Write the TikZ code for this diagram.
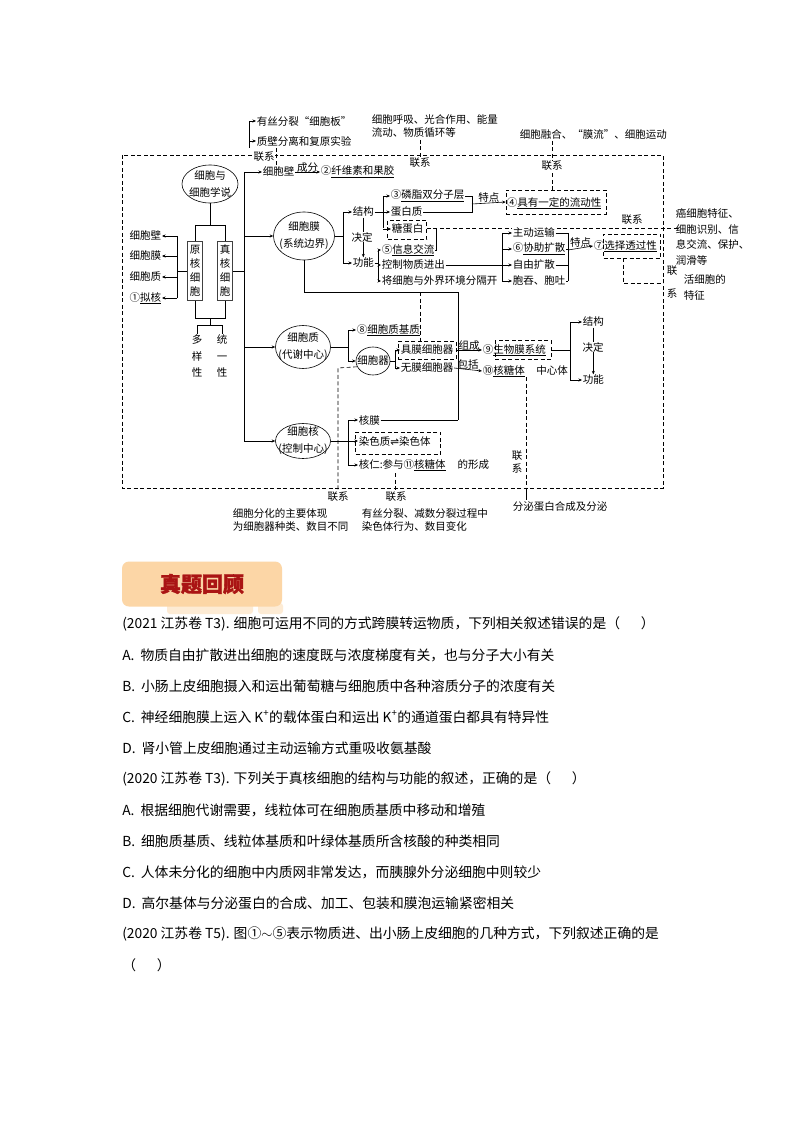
\documentclass[tikz,border=0pt]{standalone}
\usepackage{fontspec}
\setmainfont{Noto Sans CJK SC}
\newfontfamily\symfont{DejaVu Sans}
\newfontfamily\headfont{Noto Sans CJK SC}[FakeBold=1.5]
\usetikzlibrary{shapes.geometric, arrows.meta, positioning, calc}
\definecolor{HeadPeach}{RGB}{252,214,166}
\definecolor{HeadPeachLight}{RGB}{253,235,212}
\definecolor{HeadRed}{RGB}{170,20,20}
\newcommand{\dgm}{\fontsize{10.5}{13}\selectfont}
\newcommand{\ovl}{\fontsize{10.5}{17}\selectfont}
\newcommand{\qsize}{\fontsize{13.8}{16}\selectfont}

\begin{document}
\begin{tikzpicture}[x=1pt, y=-1pt,
  font=\dgm,
  line width=0.6pt,
  txt/.style={inner sep=0.5pt, anchor=west},
  lbl/.style={inner sep=0.5pt, fill=white},
  oval/.style={ellipse, draw, inner sep=0pt},
  vbox/.style={draw=black!75, line width=1.1pt, minimum width=15pt,
               minimum height=59pt, inner sep=0pt, align=center,
               font=\fontsize{10.5}{14}\selectfont},
  link/.style={dash pattern=on 4pt off 2.5pt},
  arrow/.style={-{Stealth[length=3.5pt,width=3pt]}},
  qline/.style={anchor=west, inner sep=0pt, font=\qsize},
]
\fill[white] (0,0) rectangle (794,1123);
\useasboundingbox (0,0) rectangle (794,1123);

% dashed frame and long links drawn first
\draw[link] (122,155) rectangle (663,488);
\draw[link] (420,140) -- (420,157);
\draw[link] (420,292) -- (420,341);
\draw[link] (552,141) -- (552,190);
\draw[link] (395,473) -- (395,490);
\draw[link] (526,377) -- (526,488);
\draw (526,488) -- (526,500);

% junction points
\coordinate (lb) at (177,271);
\coordinate (busT) at (244,172);
\coordinate (busB) at (244,441);
\coordinate (f1) at (378,263);
\coordinate (f2) at (502,265);
\coordinate (f3) at (568,250);
\coordinate (f4) at (348,441);
\coordinate (f5) at (383,212);

% notes outside the frame
\node[txt] (mitosis) at (256,121) {有丝分裂“细胞板”};
\node[txt] (plasmo) at (256,141) {质壁分离和复原实验};
\node[txt, align=left, lbl] (energy) at (371,126) {细胞呼吸、光合作用、能量\\流动、物质循环等};
\node[txt, lbl] (fusion) at (519,134) {细胞融合、“膜流”、细胞运动};
\node[txt, align=left, font=\fontsize{10.5}{15.5}\selectfont] (cancer) at (675,237) {癌细胞特征、\\细胞识别、信\\息交流、保护、\\润滑等};
\node[txt, align=left, font=\fontsize{10.5}{16}\selectfont] (living) at (683,287) {活细胞的\\特征};
\node[align=center, inner sep=0pt, font=\fontsize{10.5}{23}\selectfont] (lxv) at (672,282) {联\\系};

% left part
\node[oval, minimum width=56pt, minimum height=38pt] (cell) at (210,184) {};
\node[align=center, font=\ovl] at (cell) {细胞与\\细胞学说};
\node[vbox] (yuan) at (195,271) {原\\核\\细\\胞};
\node[vbox] (zhen) at (225,271) {真\\核\\细\\胞};
\node[align=center, inner sep=0pt, font=\fontsize{10.5}{16.5}\selectfont] (duo) at (197,356) {多\\样\\性};
\node[align=center, inner sep=0pt, font=\fontsize{10.5}{16.5}\selectfont] (tong) at (222,356) {统\\一\\性};
\node[inner sep=0.5pt, anchor=east] (pwall) at (162,236) {细胞壁};
\node[inner sep=0.5pt, anchor=east] (pmem) at (162,256) {细胞膜};
\node[inner sep=0.5pt, anchor=east] (pcyto) at (162,277) {细胞质};
\node[inner sep=0.5pt, anchor=east] (pnuc) at (162,298) {①\underline{拟核}};

\draw (cell.south) -- (210,225);
\draw (195,225) -- (225,225);
\draw (195,225) -- (yuan.north);
\draw (225,225) -- (zhen.north);
\draw (yuan.south) -- (195,318) -- (225,318) -- (zhen.south);
\draw (210,318) -- (210,325);
\draw (197,325) -- (222,325);
\draw (197,325) -- (duo.north);
\draw (222,325) -- (tong.north);
\draw (yuan.west) -- (lb);
\draw (177,236) -- (177,298);
\foreach \n in {pwall,pmem,pcyto,pnuc}
  \draw[arrow] (\n.east -| lb) -- (\n.east);

% main bus
\draw (zhen.east) -- (zhen.east -| busT);
\draw (busT) -- (busB);

% cell wall
\node[txt] (wall) at (262,172) {细胞壁};
\node[txt, lbl] (pectin) at (320,172) {②\underline{纤维素和果胶}};
\draw[arrow] (busT) -- (wall.west);
\draw[arrow] (wall.east) -- (pectin.west) node[midway, above=-1pt, inner sep=0.5pt] {成分};
\draw (249,121) -- (249,148);
\draw[arrow] (249,121) -- (mitosis.west);
\draw[arrow] (249,141) -- (plasmo.west);
\draw[link] (276,165) -- (276,148);
\node[lbl] at (264,157) {联系};

% cell membrane
\node[oval, minimum width=61pt, minimum height=48pt] (mem) at (304,236) {};
\node[align=center, font=\ovl] at (mem) {细胞膜\\(系统边界)};
\draw[arrow] (mem.west -| busT) -- (mem.west);
\node[txt] (jg1) at (352,212) {结构};
\node[txt] (gn1) at (352,263) {功能};
\draw (mem.east) -- (343,236);
\draw (343,212) -- (343,263);
\draw[arrow] (343,212) -- (jg1.west);
\draw[arrow] (343,263) -- (gn1.west);
\draw[arrow] (jg1.south) -- (gn1.north);
\node[lbl] at (362,237) {决定};

\node[txt, lbl] (p3) at (390,196) {③\underline{磷脂双分子层}};
\node[txt, lbl] (prot) at (390,212) {蛋白质};
\node[txt] (glyco) at (391,229) {糖蛋白};
\node[draw, link, inner sep=0pt, minimum width=39pt, minimum height=19pt] (glybox) at (407,230) {};
\draw (jg1.east) -- (f5);
\draw (383,196) -- (383,228);
\draw[arrow] (383,196) -- (p3.west);
\draw[arrow] (f5) -- (prot.west);
\draw[arrow] (383,229) -- (glyco.west);
\draw (p3.east) -- (472,196) -- (472,212) -- (prot.east);
\node[txt] (fluid) at (506,203) {④\underline{具有一定的流动性}};
\node[draw, link, minimum width=100pt, minimum height=24pt] (box4) at (556,202) {};
\draw[arrow] (472,204) -- (box4.west) node[midway, above=0pt, inner sep=0.5pt] {特点};
\node[lbl] at (552,166) {联系};

\draw[link] (glybox.east |- 0,228) -- (678,228);
\node[inner sep=0.5pt] at (632,220) {联系};

\node[txt, lbl] (info) at (381,250) {⑤\underline{信息交流}};
\node[txt, lbl] (ctrl) at (381,265) {控制物质进出};
\node[txt, lbl] (sep) at (381,281) {将细胞与外界环境分隔开};
\draw (gn1.east) -- (f1);
\draw (378,250) -- (378,281);
\foreach \n in {info,ctrl,sep}
  \draw[arrow] (\n.west -| f1) -- (\n.west);
\draw (info.east) -- ++(1.5,0) |- (436,228);

\node[txt, lbl] (active) at (512,233) {主动运输};
\node[txt] (facil) at (512,249) {⑥\underline{协助扩散}};
\node[txt] (free) at (512,265) {自由扩散};
\node[txt] (endo) at (512,281) {胞吞、胞吐};
\draw (ctrl.east) -- (f2);
\draw (502,233) -- (502,281);
\foreach \n in {active,facil,free,endo}
  \draw[arrow] (\n.west -| f2) -- (\n.west);
\foreach \n in {active,facil,free,endo}
  \draw (\n.east) -- (\n.east -| f3);
\draw (568,233) -- (568,281);
\node[txt] (perm) at (593,246) {⑦\underline{选择透过性}};
\node[draw, link, minimum width=57pt, minimum height=24pt] (box7) at (632,246) {};
\draw[arrow] (f3) -- (perm.west) node[midway, above=0pt, inner sep=0.5pt] {特点};
\draw[link] (623,258) -- (623,283) -- (663,283);

% cytoplasm
\node[oval, minimum width=55pt, minimum height=43pt] (cyto) at (303,347) {};
\node[align=center, font=\ovl] at (cyto) {细胞质\\(代谢中心)};
\draw[arrow] (cyto.west -| busT) -- (cyto.west);
\node[txt, lbl] (matrix) at (356,330) {⑧\underline{细胞质基质}};
\node[oval, minimum width=34pt, minimum height=28pt] (organ) at (373,361) {};
\node[inner sep=0pt] at (organ) {细胞器};
\draw (cyto.east) -- (348,347);
\draw (348,330) -- (348,361);
\draw[arrow] (348,330) -- (matrix.west);
\draw[arrow] (348,361) -- (organ.west);
\node[txt] (memorg) at (400,350) {具膜细胞器};
\node[draw, link, minimum width=58pt, minimum height=18pt] (box8) at (427,350) {};
\node[txt] (nomem) at (400,368) {无膜细胞器};
\draw (organ.east) -- (395,361);
\draw (395,350) -- (395,368);
\draw[arrow] (395,350) -- (memorg.west);
\draw[arrow] (395,368) -- (nomem.west);
\node[txt] (bms) at (482,350) {⑨\underline{生物膜系统}};
\node[draw, link, minimum width=56pt, minimum height=19pt] (box9) at (523,350) {};
\node[txt] (ribo) at (482,371) {⑩\underline{核糖体}};
\node[inner sep=0.5pt] at (552,371) {中心体};
\draw[arrow] (box8.east) -- (bms.west) node[midway, above=-1pt, inner sep=0.5pt] {组成};
\draw[arrow] (nomem.east) -- (ribo.west) node[midway, above=-1pt, inner sep=0.5pt] {包括};
\node[txt] (jg2) at (582,322) {结构};
\node[txt] (gn2) at (582,380) {功能};
\draw (box9.east) -- (570,350);
\draw (570,322) -- (570,380);
\draw[arrow] (570,322) -- (jg2.west);
\draw[arrow] (570,380) -- (gn2.west);
\draw[arrow] (jg2.south) -- (gn2.north);
\node[lbl] at (593,347) {决定};

% membranes joined into the system
\draw (mem.south) -- (304,292) -- (458,292) -- (458,420);

% nucleus
\node[oval, minimum width=55pt, minimum height=35pt] (nuc) at (303,441) {};
\node[align=center, font=\ovl] at (nuc) {细胞核\\(控制中心)};
\draw[arrow] (busB) -- (nuc.west);
\node[txt] (envel) at (358,420) {核膜};
\node[txt] (chrom) at (358,441) {染色质{\symfont\fontsize{10.5}{10}\selectfont ⇌}染色体};
\node[draw, link, minimum width=85pt, minimum height=22pt] (boxc) at (398,443) {};
\node[txt, lbl] (nucl) at (358,465) {核仁:参与⑪\underline{核糖体}\hspace{12pt}的形成};
\draw (envel.east) -- (458,420);
\draw (nuc.east) -- (f4);
\draw (348,420) -- (348,465);
\foreach \n in {envel,chrom,nucl}
  \draw[arrow] (\n.west -| f4) -- (\n.west);

% links below the frame
\draw[link] (organ.200) -- (338,368) -- (338,490);
\node[inner sep=0.5pt] (lx1) at (338,497) {联系};
\node[txt, align=left] (diff) at (232,520) {细胞分化的主要体现\\为细胞器种类、数目不同};
\node[inner sep=0.5pt] (lx2) at (396,497) {联系};
\node[txt, align=left] (meio) at (361,520) {有丝分裂、减数分裂过程中\\染色体行为、数目变化};
\node[align=center, inner sep=0pt, font=\fontsize{10.5}{13}\selectfont] at (517,462) {联\\系};
\node[txt] (secr) at (512,507) {分泌蛋白合成及分泌};
\node[lbl] at (420,163) {联系};

% heading
\fill[HeadPeachLight, rounded corners=3pt] (167,603) rectangle (253,614);
\fill[HeadPeachLight, rounded corners=3pt] (258,603) rectangle (283,614);
\node[fill=HeadPeach, rounded corners=7pt, minimum width=160pt, minimum height=45pt] (head) at (202,584) {};
\node[font=\fontsize{21}{23}\selectfont\headfont\bfseries, text=HeadRed] at (head) {真题回顾};

% questions
\node[qline] (q1) at (122,624) {(2021 江苏卷 T3). 细胞可运用不同的方式跨膜转运物质，下列相关叙述错误的是（\hspace{1.5em}）};
\node[qline] (q1a) at (122,655) {A.\hspace{6pt}物质自由扩散进出细胞的速度既与浓度梯度有关，也与分子大小有关};
\node[qline] (q1b) at (122,686) {B.\hspace{6pt}小肠上皮细胞摄入和运出葡萄糖与细胞质中各种溶质分子的浓度有关};
\node[qline] (q1c) at (122,717) {C.\hspace{6pt}神经细胞膜上运入 K\textsuperscript{+}的载体蛋白和运出 K\textsuperscript{+}的通道蛋白都具有特异性};
\node[qline] (q1d) at (122,748) {D.\hspace{6pt}肾小管上皮细胞通过主动运输方式重吸收氨基酸};
\node[qline] (q2) at (122,779) {(2020 江苏卷 T3). 下列关于真核细胞的结构与功能的叙述，正确的是（\hspace{1.5em}）};
\node[qline] (q2a) at (122,810) {A.\hspace{6pt}根据细胞代谢需要，线粒体可在细胞质基质中移动和增殖};
\node[qline] (q2b) at (122,841) {B.\hspace{6pt}细胞质基质、线粒体基质和叶绿体基质所含核酸的种类相同};
\node[qline] (q2c) at (122,872) {C.\hspace{6pt}人体未分化的细胞中内质网非常发达，而胰腺外分泌细胞中则较少};
\node[qline] (q2d) at (122,903) {D.\hspace{6pt}高尔基体与分泌蛋白的合成、加工、包装和膜泡运输紧密相关};
\node[qline] (q3) at (122,934) {(2020 江苏卷 T5). 图①$\sim$⑤表示物质进、出小肠上皮细胞的几种方式，下列叙述正确的是};
\node[qline] (q3x) at (122,965) {（\hspace{1.5em}）};
\end{tikzpicture}
\end{document}
